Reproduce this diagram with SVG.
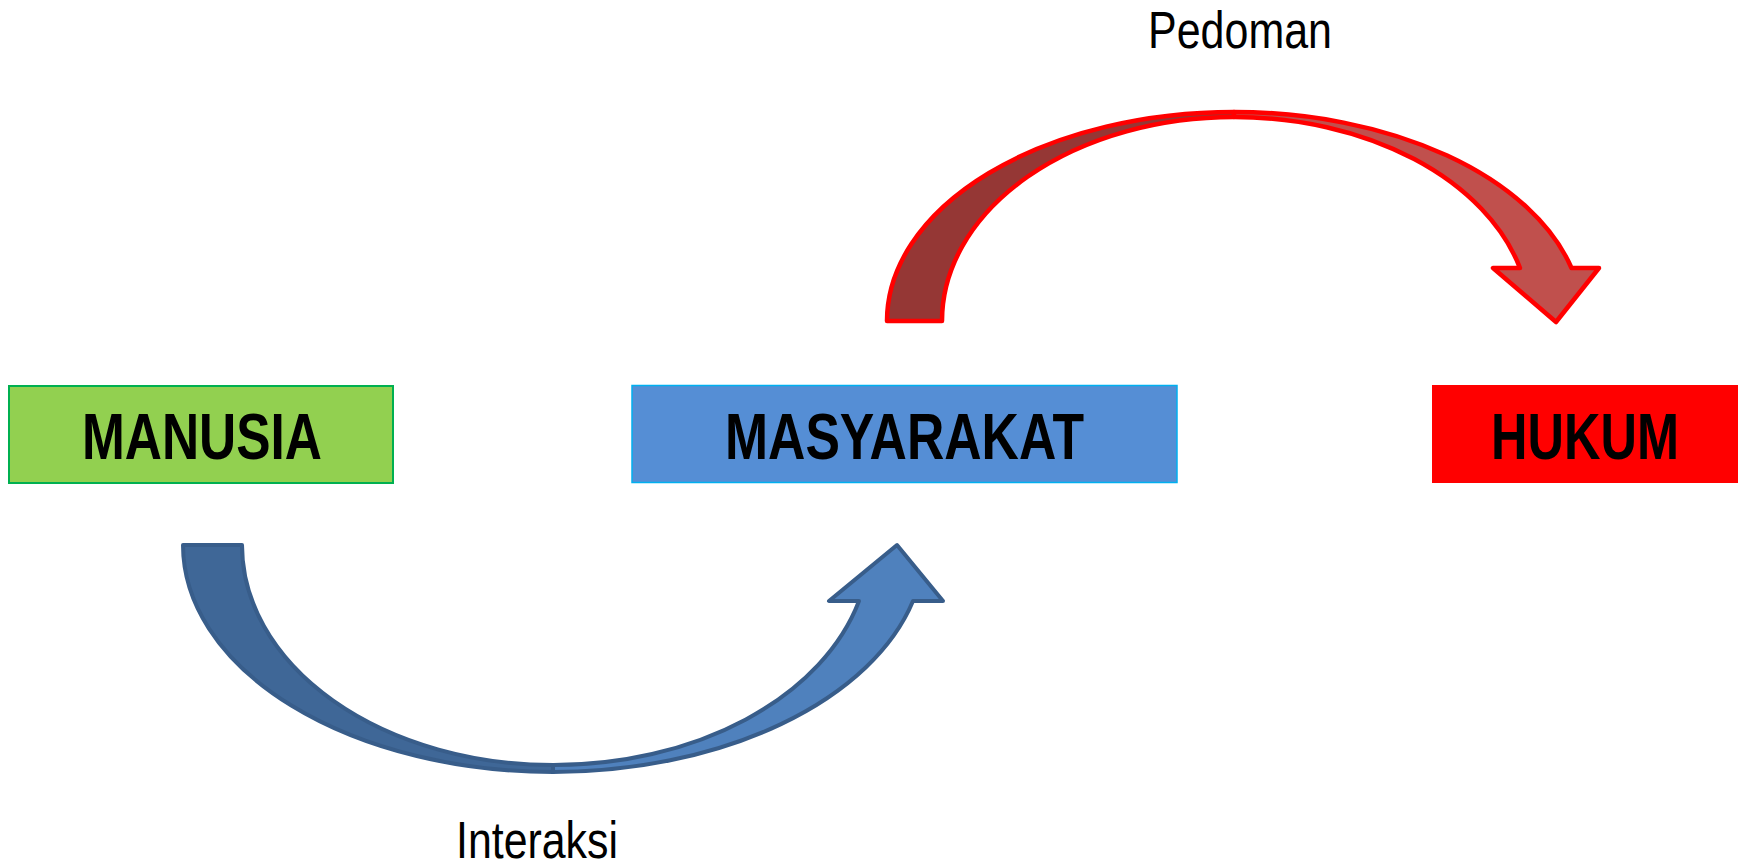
<svg xmlns="http://www.w3.org/2000/svg" width="1744" height="868" viewBox="0 0 1744 868">
<style>
.box-label{font-family:"Liberation Sans",Arial,sans-serif;font-weight:bold;font-size:64px;fill:#000;text-anchor:start}
.lbl{font-family:"Liberation Sans",Arial,sans-serif;font-size:52px;fill:#000}
.blue{stroke:#385D8A;stroke-width:4;stroke-linejoin:round}
.red{stroke:#FF0000;stroke-width:4.5;stroke-linejoin:round}
</style>
<rect width="1744" height="868" fill="#FFFFFF"/>
<g id="manusia">
<rect x="9" y="386" width="384" height="97" fill="#92D050" stroke="#00B050" stroke-width="2"/>
<text class="box-label" x="82" y="459" textLength="240" lengthAdjust="spacingAndGlyphs">MANUSIA</text>
</g>
<g id="masyarakat">
<rect x="632" y="385.5" width="545" height="97" fill="#558ED5" stroke="#00B0F0" stroke-width="1.5"/>
<text class="box-label" x="725" y="459" textLength="359" lengthAdjust="spacingAndGlyphs">MASYARAKAT</text>
</g>
<g id="hukum">
<rect x="1432" y="385" width="306" height="98" fill="#FF0000"/>
<text class="box-label" x="1491" y="459" textLength="188" lengthAdjust="spacingAndGlyphs">HUKUM</text>
</g>
<g id="connectors">
<g id="interaksi-arrow">
<path class="blue" fill="#3F6797" d="M183,545 A370,227 0 0 0 553,772 L553,765 A311,220 0 0 1 242,545 Z"/>
<path class="blue" fill="#4F81BD" d="M553,772 A372,227 0 0 0 913,601 L943,601 L897,545 L829,601 L859,601 A316,221 0 0 1 553,765 Z"/>
</g>
<g id="pedoman-arrow">
<path class="red" fill="#953735" d="M887,321 A347,209 0 0 1 1234,112 L1234,117 A292,204 0 0 0 942,321 Z"/>
<path class="red" fill="#C0504D" d="M1234,112 A349,209 0 0 1 1571.5,268 L1599,268 L1556,322 L1493,268 L1520,268 A296,204 0 0 0 1234,117 Z"/>
</g>
</g>
<text class="lbl" x="1148" y="48" textLength="184" lengthAdjust="spacingAndGlyphs">Pedoman</text>
<text class="lbl" x="456" y="858" textLength="162" lengthAdjust="spacingAndGlyphs">Interaksi</text>
</svg>
